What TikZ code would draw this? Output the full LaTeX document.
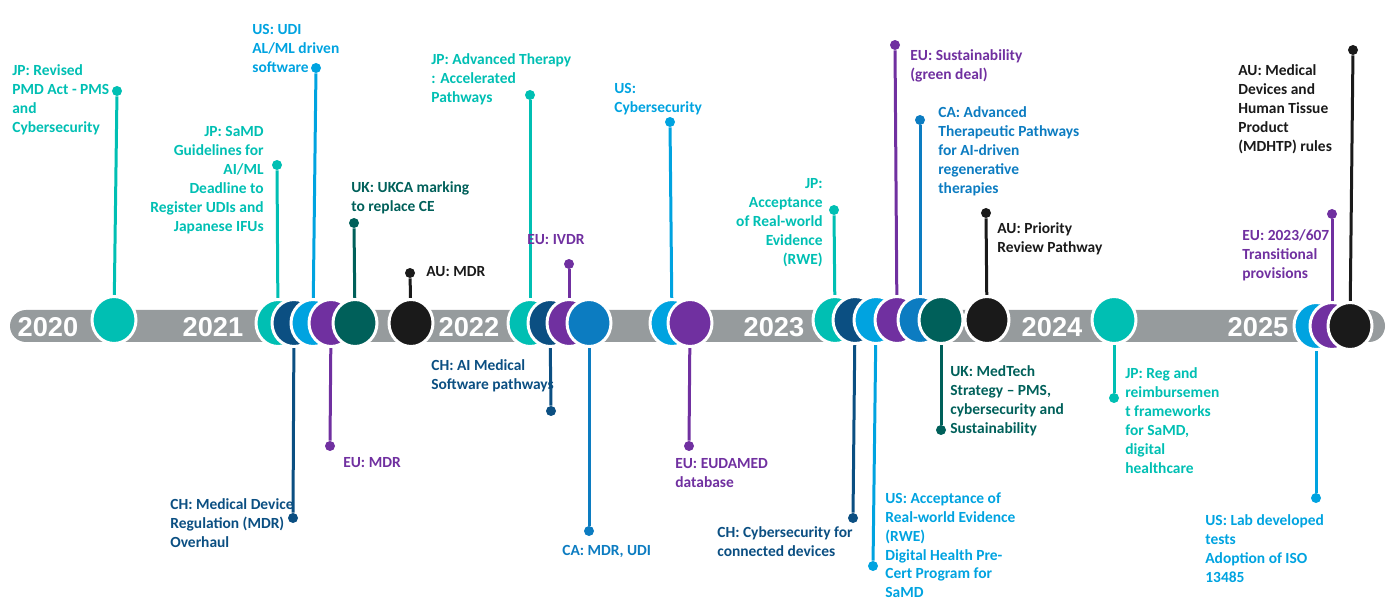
\documentclass[tikz,border=0pt]{standalone}
\usepackage{fontspec}
\setmainfont{Carlito}
\newfontfamily\yearfont{Liberation Sans}
\usetikzlibrary{backgrounds,shapes.geometric}

\definecolor{cteal}{HTML}{00BFB3}
\definecolor{cnavy}{HTML}{0B4F82}
\definecolor{clight}{HTML}{00A3E0}
\definecolor{cpurple}{HTML}{7030A0}
\definecolor{cgreen}{HTML}{00605A}
\definecolor{cblack}{HTML}{1A1A1A}
\definecolor{cblue}{HTML}{0C7CC1}
\definecolor{cband}{HTML}{969B9D}

\begin{document}
\begin{tikzpicture}[
    x=0.02cm, y=-0.02cm,
    event/.style={ellipse, draw=white, line width=0.06cm, minimum width=0.88cm, minimum height=0.94cm, inner sep=0},
    enddot/.style={circle, fill=#1, minimum size=0.2cm, inner sep=0},
    stem/.style={line width=0.06cm},
    lab/.style={text=#1, font=\fontsize{8.8}{10.8}\selectfont\bfseries, align=left, inner sep=0, anchor=north west},
    labr/.style={lab=#1, align=right, anchor=north east},
    year/.style={text=white, font=\yearfont\fontsize{15.5}{16}\selectfont\bfseries},
]
\useasboundingbox (0,0) rectangle (1390,601);

% Band and years
\begin{scope}[on background layer]
\fill[cband, rounded corners=0.32cm] (10,310) rectangle (1385,342);
\end{scope}
\node[year] (y2020) at (48,327) {2020};
\node[year] (y2021) at (213,327) {2021};
\node[year] (y2022) at (469,327) {2022};
\node[year] (y2023) at (774,327) {2023};
\node[year] (y2024) at (1052,327) {2024};
\node[year] (y2025) at (1258,327) {2025};

% End dots
\node[enddot=cteal] (d1) at (117,91) {};
\node[enddot=cteal] (d2) at (277,165) {};
\node[enddot=cnavy] (d4) at (293,518) {};
\node[enddot=clight] (d3) at (316,68) {};
\node[enddot=cpurple] (d5) at (330,446) {};
\node[enddot=cgreen] (d6) at (354,223) {};
\node[enddot=cblack] (d7) at (410,273) {};
\node[enddot=cteal] (d8) at (530,95) {};
\node[enddot=cnavy] (d10) at (551,411) {};
\node[enddot=cpurple] (d9) at (569,264) {};
\node[enddot=cblue] (d11) at (589,531) {};
\node[enddot=clight] (d12) at (670,122) {};
\node[enddot=cpurple] (d13) at (689,446) {};
\node[enddot=cteal] (d14) at (834,210) {};
\node[enddot=cnavy] (d15) at (853,518) {};
\node[enddot=clight] (d16) at (873,566) {};
\node[enddot=cpurple] (d17) at (895,45) {};
\node[enddot=cblue] (d18) at (920,120) {};
\node[enddot=cgreen] (d20) at (941,430) {};
\node[enddot=cblack] (d19) at (986,213) {};
\node[enddot=cteal] (d21) at (1114,398) {};
\node[enddot=clight] (d24) at (1316,498) {};
\node[enddot=cpurple] (d23) at (1332,214) {};
\node[enddot=cblack] (d22) at (1353,50) {};

% Labels
\node[lab=cteal] (t1) at (12,64) {JP: Revised\\PMD Act - PMS\\and\\Cybersecurity};
\node[labr=cteal] (t2) at (264,126) {JP: SaMD\\Guidelines for\\AI/ML\\Deadline to\\Register UDIs and\\Japanese IFUs};
\node[lab=clight] (t3) at (252,24) {US: UDI\\AL/ML driven\\software};
\node[lab=cnavy] (t4) at (170,498) {CH: Medical Device\\Regulation (MDR)\\Overhaul};
\node[lab=cpurple] (t5) at (343,457) {EU: MDR};
\node[lab=cgreen] (t6) at (351,181) {UK: UKCA marking\\to replace CE};
\node[lab=cblack, anchor=west] (t7) at (426,272) {AU: MDR};
\node[lab=cteal] (t8) at (431,53) {JP: Advanced Therapy\\: Accelerated\\Pathways};
\node[lab=cpurple] (t9) at (527,234) {EU: IVDR};
\node[lab=cnavy] (t10) at (431,359) {CH: AI Medical\\Software pathways};
\node[lab=cblue] (t11) at (562,545) {CA: MDR, UDI};
\node[lab=clight] (t12) at (614,83) {US:\\Cybersecurity};
\node[lab=cpurple] (t13) at (675,458) {EU: EUDAMED\\database};
\node[labr=cteal] (t14) at (823,178) {JP:\\Acceptance\\of Real-world\\Evidence\\(RWE)};
\node[lab=cnavy] (t15) at (717,526) {CH: Cybersecurity for\\connected devices};
\node[lab=clight] (t16) at (885,492) {US: Acceptance of\\Real-world Evidence\\(RWE)\\Digital Health Pre-\\Cert Program for\\SaMD};
\node[lab=cpurple] (t17) at (910,49) {EU: Sustainability\\(green deal)};
\node[lab=cblue] (t18) at (938,106) {CA: Advanced\\Therapeutic Pathways\\for AI-driven\\regenerative\\therapies};
\node[lab=cblack] (t19) at (997,222) {AU: Priority\\Review Pathway};
\node[lab=cgreen] (t20) at (950,365) {UK: MedTech\\Strategy -- PMS,\\cybersecurity and\\Sustainability};
\node[lab=cteal] (t21) at (1125,367) {JP: Reg and\\reimbursemen\\t frameworks\\for SaMD,\\digital\\healthcare};
\node[lab=cblack] (t22) at (1238,64) {AU: Medical\\Devices and\\Human Tissue\\Product\\(MDHTP) rules};
\node[lab=cpurple] (t23) at (1242,229) {EU: 2023/607\\Transitional\\provisions};
\node[lab=clight] (t24) at (1205,514) {US: Lab developed\\tests\\Adoption of ISO\\13485};

% Event circles, left to right
\node[event, fill=cteal] (c1) at (114,320) {};
\node[event, fill=cteal] (c2) at (278,323) {};
\node[event, fill=cnavy] (c4) at (294,323) {};
\node[event, fill=clight] (c3) at (313,323) {};
\node[event, fill=cpurple] (c5) at (331,323) {};
\node[event, fill=cgreen] (c6) at (355,323) {};
\node[event, fill=cblack] (c7) at (411,323) {};
\node[event, fill=cteal] (c8) at (530,323) {};
\node[event, fill=cnavy] (c10) at (550,323) {};
\node[event, fill=cpurple] (c9) at (569,323) {};
\node[event, fill=cblue] (c11) at (589,323) {};
\node[event, fill=clight] (c12) at (672,323) {};
\node[event, fill=cpurple] (c13) at (690,323) {};
\node[event, fill=cteal] (c14) at (835,320) {};
\node[event, fill=cnavy] (c15) at (855,320) {};
\node[event, fill=clight] (c16) at (876,320) {};
\node[event, fill=cpurple] (c17) at (897,320) {};
\node[event, fill=cblue] (c18) at (920,320) {};
\node[event, fill=cgreen] (c20) at (941,320) {};
\node[event, fill=cblack] (c19) at (987,320) {};
\node[event, fill=cteal] (c21) at (1114,320) {};
\node[event, fill=clight] (c24) at (1316,326) {};
\node[event, fill=cpurple] (c23) at (1332,326) {};
\node[event, fill=cblack] (c22) at (1350,326) {};

% Stems
\begin{scope}[on background layer]
\draw[stem, cteal] (c1.center) -- (d1);
\draw[stem, cteal] (c2.center) -- (d2);
\draw[stem, clight] (c3.center) -- (d3);
\draw[stem, cnavy] (c4.center) -- (d4);
\draw[stem, cpurple] (c5.center) -- (d5);
\draw[stem, cgreen] (c6.center) -- (d6);
\draw[stem, cblack] (c7.center) -- (d7);
\draw[stem, cteal] (c8.center) -- (d8);
\draw[stem, cpurple] (c9.center) -- (d9);
\draw[stem, cnavy] (c10.center) -- (d10);
\draw[stem, cblue] (c11.center) -- (d11);
\draw[stem, clight] (c12.center) -- (d12);
\draw[stem, cpurple] (c13.center) -- (d13);
\draw[stem, cteal] (c14.center) -- (d14);
\draw[stem, cnavy] (c15.center) -- (d15);
\draw[stem, clight] (c16.center) -- (d16);
\draw[stem, cpurple] (c17.center) -- (d17);
\draw[stem, cblue] (c18.center) -- (d18);
\draw[stem, cblack] (c19.center) -- (d19);
\draw[stem, cgreen] (c20.center) -- (d20);
\draw[stem, cteal] (c21.center) -- (d21);
\draw[stem, cblack] (c22.center) -- (d22);
\draw[stem, cpurple] (c23.center) -- (d23);
\draw[stem, clight] (c24.center) -- (d24);
\end{scope}

\end{tikzpicture}
\end{document}
